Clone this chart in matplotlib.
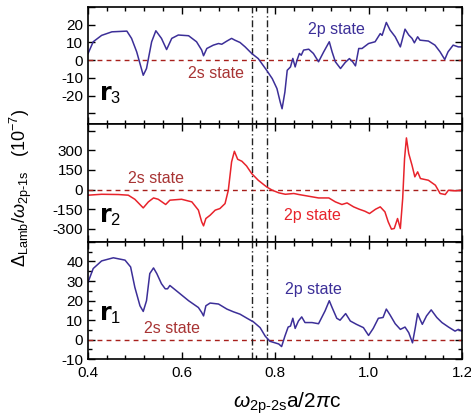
import numpy as np
import matplotlib.pyplot as plt
from matplotlib.ticker import MultipleLocator, FuncFormatter

plt.rcParams['font.family'] = ['Liberation Sans', 'DejaVu Sans']
plt.rcParams['mathtext.fontset'] = 'custom'
plt.rcParams['mathtext.rm'] = 'Liberation Sans'
plt.rcParams['mathtext.it'] = 'Liberation Sans:italic'

# r3 panel (2p state), units of 1e-7
x_r3 = [0.400, 0.411, 0.429, 0.451, 0.483, 0.493, 0.504, 0.518, 0.525, 0.536,
        0.545, 0.557, 0.568, 0.579, 0.593, 0.615, 0.632, 0.643, 0.647, 0.654,
        0.668, 0.679, 0.686, 0.697, 0.707, 0.714, 0.725, 0.736, 0.750, 0.764,
        0.782, 0.794, 0.804, 0.811, 0.815, 0.821, 0.826, 0.833, 0.838, 0.843,
        0.847, 0.852, 0.856, 0.861, 0.872, 0.882, 0.893, 0.904, 0.916, 0.922,
        0.929, 0.940, 0.950, 0.959, 0.966, 0.972, 0.979, 0.986, 1.000, 1.014,
        1.025, 1.029, 1.038, 1.046, 1.057, 1.068, 1.078, 1.086, 1.093, 1.098,
        1.105, 1.110, 1.128, 1.142, 1.153, 1.163, 1.170, 1.181, 1.192, 1.200]
y_r3 = [3.8, 10.4, 14.0, 16.0, 16.4, 12.3, 4.7, -8.5, -4.7, 10.4,
        16.6, 12.3, 6.0, 12.3, 14.2, 13.8, 10.4, 5.7, 2.5, 6.6,
        8.5, 9.4, 9.0, 10.8, 12.3, 11.3, 10.0, 7.5, 3.8, 0.9,
        -5.7, -10.4, -16.0, -23.6, -27.4, -18.0, -5.7, -3.8, 1.0, -3.8,
        0.0, 3.8, 2.8, 5.7, 6.2, 3.8, -0.9, 4.7, 10.4, 4.7,
        -0.9, -4.7, -1.3, 0.9, -0.9, -3.2, 6.6, 6.6, 9.4, 10.4,
        15.0, 14.0, 21.3, 17.0, 13.2, 7.5, 17.5, 14.2, 12.3, 9.8,
        13.2, 11.3, 10.8, 8.5, 4.7, 0.4, 4.7, 8.5, 7.5, 7.5]

# r2 panel (2p state)
x_r2 = [0.400, 0.429, 0.465, 0.486, 0.500, 0.518, 0.529, 0.540, 0.550, 0.566,
        0.575, 0.600, 0.622, 0.636, 0.643, 0.647, 0.652, 0.661, 0.672, 0.682,
        0.693, 0.700, 0.707, 0.713, 0.720, 0.729, 0.739, 0.750, 0.764, 0.782,
        0.794, 0.808, 0.822, 0.840, 0.851, 0.872, 0.893, 0.915, 0.929, 0.943,
        0.954, 0.968, 0.980, 0.992, 1.002, 1.015, 1.025, 1.035, 1.042, 1.049,
        1.055, 1.062, 1.068, 1.073, 1.077, 1.081, 1.086, 1.093, 1.099, 1.105,
        1.111, 1.128, 1.143, 1.153, 1.164, 1.171, 1.185, 1.200]
y_r2 = [-43, -36, -38, -43, -74, -140, -94, -64, -74, -114,
        -81, -74, -94, -157, -246, -277, -221, -196, -157, -145,
        -107, -5, 211, 292, 231, 216, 180, 122, 71, 20,
        -5, -25, -36, -30, -38, -51, -64, -64, -94, -114,
        -102, -132, -150, -165, -183, -150, -132, -170, -246, -302,
        -297, -221, -297, -69, 236, 394, 274, 185, 97, 135,
        84, 71, 33, -30, -38, -5, -10, -5]

# r1 panel (2p state)
x_r1 = [0.400, 0.411, 0.429, 0.454, 0.479, 0.491, 0.500, 0.511, 0.518, 0.525,
        0.532, 0.540, 0.547, 0.557, 0.565, 0.570, 0.575, 0.593, 0.615, 0.636,
        0.643, 0.647, 0.652, 0.661, 0.679, 0.697, 0.711, 0.725, 0.740, 0.754,
        0.768, 0.779, 0.789, 0.800, 0.808, 0.814, 0.821, 0.828, 0.833, 0.838,
        0.843, 0.850, 0.857, 0.864, 0.879, 0.893, 0.907, 0.916, 0.922, 0.932,
        0.939, 0.951, 0.961, 0.974, 0.989, 1.000, 1.010, 1.021, 1.031, 1.038,
        1.046, 1.057, 1.068, 1.078, 1.086, 1.094, 1.100, 1.105, 1.110, 1.115,
        1.124, 1.134, 1.146, 1.157, 1.171, 1.185, 1.192, 1.200]
y_r1 = [29.4, 36.4, 40.3, 41.9, 40.7, 37.2, 26.8, 17.3, 14.4, 19.9,
        33.8, 36.7, 33.8, 28.6, 26.0, 26.0, 27.7, 24.2, 19.9, 16.4,
        13.9, 12.1, 17.3, 18.7, 18.2, 15.6, 14.2, 13.0, 10.9, 9.0,
        6.1, 1.7, -0.9, -1.7, -2.3, -3.6, 1.7, 6.4, 6.9, 10.9,
        5.7, 9.5, 11.6, 8.7, 8.7, 8.1, 14.7, 19.9, 16.4, 10.9,
        9.9, 13.3, 9.5, 7.8, 6.1, 2.1, 5.7, 10.9, 11.3, 15.6,
        12.6, 8.1, 5.2, 6.4, 3.5, -1.7, 6.1, 13.3, 10.4, 7.8,
        12.1, 15.2, 11.3, 8.7, 6.4, 4.3, 5.2, 4.3]

vlines = [0.75, 0.782]

purple = '#3c2f98'
red = '#e8232b'
dark_red = '#a8201c'
text_red = '#a83434'

fig = plt.figure(figsize=(4.71, 4.17), dpi=100)
left, width = 0.187, 0.794
ax3 = fig.add_axes([left, 0.7026, width, 0.2806])
ax2 = fig.add_axes([left, 0.4197, width, 0.2829])
ax1 = fig.add_axes([left, 0.139, width, 0.2807])


def style(ax, ylim, step, shown, minor=None):
    ax.set_xlim(0.4, 1.2)
    ax.set_ylim(*ylim)
    ax.xaxis.set_major_locator(MultipleLocator(0.2))
    ax.xaxis.set_minor_locator(MultipleLocator(0.04))
    ax.yaxis.set_major_locator(MultipleLocator(step))
    if minor:
        ax.yaxis.set_minor_locator(MultipleLocator(minor))
    lo, hi = shown
    ax.yaxis.set_major_formatter(FuncFormatter(
        lambda v, p: '%d' % round(v) if lo - 1e-6 <= v <= hi + 1e-6 else ''))
    ax.tick_params(which='both', direction='in', top=True, right=True,
                   labelsize=11, width=1.0)
    ax.tick_params(which='major', length=5)
    ax.tick_params(which='minor', length=3)
    for s in ax.spines.values():
        s.set_linewidth(1.2)
    ax.axhline(0, color=dark_red, lw=1.0, ls=(0, (3.5, 3)))
    for xv in vlines:
        ax.axvline(xv, color='#222222', lw=1.0, ls=(0, (5, 2, 1, 2)))


style(ax3, (-36, 30), 10, (-20, 20))
style(ax2, (-400, 500), 150, (-300, 300))
style(ax1, (-10, 50), 10, (-10, 40), minor=5)

ax3.plot(x_r3, y_r3, color=purple, lw=1.1)
ax2.plot(x_r2, y_r2, color=red, lw=1.1)
ax1.plot(x_r1, y_r1, color=purple, lw=1.1)

for ax in (ax3, ax2):
    ax.tick_params(labelbottom=False)
ax1.xaxis.set_major_formatter(FuncFormatter(lambda v, p: '%.1f' % v))
ax1.tick_params(axis='x', labelsize=11, pad=5)

# state labels
ax3.text(0.871, 17.5, '2p state', color=purple, fontsize=11.5, va='center')
ax3.text(0.614, -7.7, '2s state', color=text_red, fontsize=11.5, va='center')
ax2.text(0.486, 86, '2s state', color=text_red, fontsize=11.5, va='center')
ax2.text(0.819, -196, '2p state', color=red, fontsize=11.5, va='center')
ax1.text(0.821, 25.8, '2p state', color=purple, fontsize=11.5, va='center')
ax1.text(0.520, 5.6, '2s state', color=text_red, fontsize=11.5, va='center')

# radius labels
ax3.text(0.424, -22.5, r'$\mathbf{r}_{3}$', fontsize=17, va='baseline')
ax2.text(0.424, -250, r'$\mathbf{r}_{2}$', fontsize=17, va='baseline')
ax1.text(0.424, 10.2, r'$\mathbf{r}_{1}$', fontsize=17, va='baseline')

fig.text(0.045, 0.55,
         r'$\Delta_{\rm Lamb}/\omega_{\rm 2p\text{-}1s}$   $(10^{-7})$',
         rotation=90, ha='center', va='center', fontsize=13)
fig.text(0.61, 0.032, r'$\omega_{\rm 2p\text{-}2s}$a/2$\pi$c',
         ha='center', va='center', fontsize=15)

fig.savefig('out.png', dpi=100)
